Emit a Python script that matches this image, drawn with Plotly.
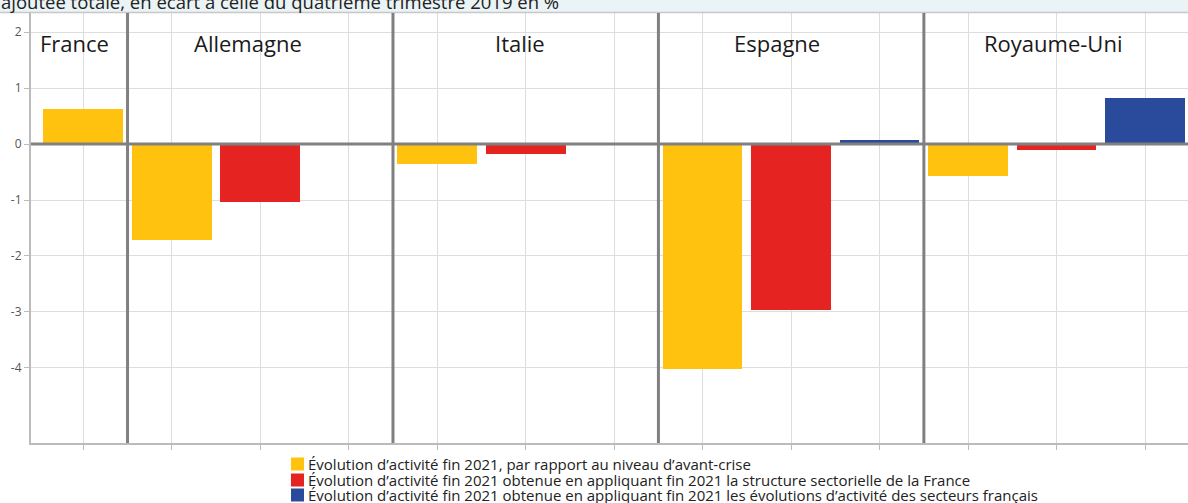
import plotly.graph_objects as go

# --- data -------------------------------------------------------------
countries = ["France", "Allemagne", "Italie", "Espagne", "Royaume-Uni"]
slots = [1, 3, 3, 3, 3]  # bar slots reserved for each country

series_names = [
    "Évolution d’activité fin 2021, par rapport au niveau d’avant-crise",
    "Évolution d’activité fin 2021 obtenue en appliquant fin 2021 la structure sectorielle de la France",
    "Évolution d’activité fin 2021 obtenue en appliquant fin 2021 les évolutions d’activité des secteurs français",
]
avant_crise = [0.62, -1.71, -0.35, -4.01, -0.57]
structure_fr = [None, -1.03, -0.17, -2.96, -0.10]
secteurs_fr = [None, None, None, 0.07, 0.82]
series_values = [avant_crise, structure_fr, secteurs_fr]
series_colors = ["#FFC20E", "#E52421", "#2A4B9B"]

y_ticks = [2, 1, 0, -1, -2, -3, -4]

# --- geometry helpers ---------------------------------------------------
W, H = 1188, 503
ML, MR, MT, MB = 31, 0, 13, 60
PW, PH = W - ML - MR, H - MT - MB


def px_to_paper_y(py):
    return (H - MB - py) / PH


def px_to_paper_x(px):
    return (px - ML) / PW


starts = []
pos = 0
for n in slots:
    starts.append(pos)
    pos += n
n_slots = pos

fig = go.Figure()
for k, (name, vals, col) in enumerate(zip(series_names, series_values, series_colors)):
    xs, ys = [], []
    for i, v in enumerate(vals):
        if v is None:
            continue
        xs.append(starts[i] + k)
        ys.append(v)
    fig.add_trace(go.Bar(x=xs, y=ys, name=name, marker=dict(color=col, line=dict(width=0)),
                         width=0.9, showlegend=False, hoverinfo="y"))

# header band
fig.add_shape(type="rect", xref="paper", yref="paper", x0=-0.1, x1=1.1,
              y0=px_to_paper_y(12.5), y1=px_to_paper_y(-5),
              fillcolor="#EAF3F5", line=dict(width=0), layer="below")
fig.add_shape(type="line", xref="paper", yref="paper", x0=-0.1, x1=1.1,
              y0=px_to_paper_y(12.5), y1=px_to_paper_y(12.5),
              line=dict(color="#C8C8C8", width=1.5))
fig.add_annotation(xref="paper", yref="paper", x=px_to_paper_x(-1), y=px_to_paper_y(1.5),
                   xanchor="left", yanchor="middle", showarrow=False,
                   text="ajoutée totale, en écart à celle du quatrième trimestre 2019 en %",
                   font=dict(family="Open Sans", size=18.5, color="#222222"))

# group separators
for s in starts[1:]:
    fig.add_shape(type="line", xref="x", yref="paper", x0=s - 0.5, x1=s - 0.5, y0=0, y1=1,
                  line=dict(color="#808080", width=3), layer="above")

# zero line above bars
fig.add_shape(type="line", xref="paper", yref="y", x0=0, x1=1, y0=0, y1=0,
              line=dict(color="#808080", width=3), layer="above")

# country labels
label_x = [-0.10, 1.86, 4.93, 7.84, 10.96]
for c, lx in zip(countries, label_x):
    fig.add_annotation(x=lx, y=1.81, xref="x", yref="y", text=c, showarrow=False,
                       xanchor="center", yanchor="middle",
                       font=dict(family="Open Sans", size=22, color="#1a1a1a"))

# legend drawn as squares + text
leg_y = [464, 480, 495]
for name, col, ly in zip(series_names, series_colors, leg_y):
    fig.add_shape(type="rect", xref="paper", yref="paper",
                  x0=px_to_paper_x(291), x1=px_to_paper_x(304),
                  y0=px_to_paper_y(ly + 6.5), y1=px_to_paper_y(ly - 6.5),
                  fillcolor=col, line=dict(width=0))
    fig.add_annotation(xref="paper", yref="paper", x=px_to_paper_x(306), y=px_to_paper_y(ly),
                       xanchor="left", yanchor="middle", showarrow=False, text=name,
                       font=dict(family="Open Sans", size=15, color="#222222"))

fig.update_layout(
    width=W, height=H,
    margin=dict(l=ML, r=MR, t=MT, b=MB),
    paper_bgcolor="white", plot_bgcolor="white",
    font=dict(family="Open Sans"),
    bargap=0,
    xaxis=dict(range=[-0.591, 12.485], tickmode="array", tickvals=list(range(n_slots)),
               showticklabels=False, showgrid=True, gridcolor="#DDDDDD", gridwidth=1,
               zeroline=False, showline=True, linecolor="#BBBBBB", linewidth=2,
               ticks="outside", ticklen=5, tickcolor="#BBBBBB", fixedrange=True),
    yaxis=dict(range=[-5.34, 2.34], tickmode="array", tickvals=y_ticks,
               ticktext=[str(v) for v in y_ticks],
               showgrid=True, gridcolor="#DDDDDD", gridwidth=1, zeroline=False,
               showline=True, linecolor="#BBBBBB", linewidth=2,
               ticks="outside", ticklen=5, tickcolor="#BBBBBB",
               tickfont=dict(family="Open Sans", size=12, color="#555555"), fixedrange=True),
)

fig.write_html("out.html")
